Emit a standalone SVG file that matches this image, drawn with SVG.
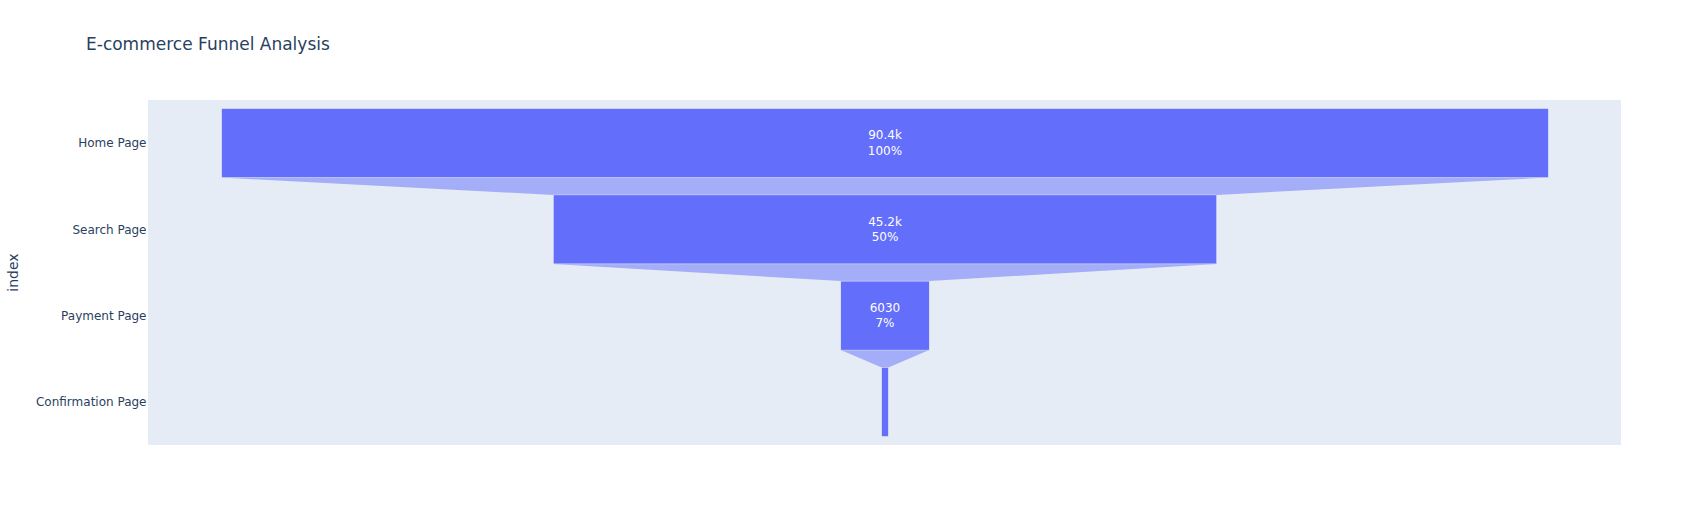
<svg xmlns="http://www.w3.org/2000/svg" width="1701" height="525" viewBox="0 0 1701 525">
<style>
text{font-family:"DejaVu Sans",Verdana,sans-serif}
.bar{fill:#636efa;stroke:#e5ecf6;stroke-width:0.5}
.conn{fill:#a4adf8;stroke:none}
.tick{font-size:12px;fill:#2a3f5f;text-anchor:end}
.val{font-size:12px;fill:#ffffff;text-anchor:middle}
</style>
<rect x="0" y="0" width="1701" height="525" fill="#ffffff"/>
<rect x="148" y="100" width="1473" height="345" fill="#e5ecf6"/>
<g id="connectors">
<polygon class="conn" points="221.7,177.6 1548.3,177.6 1216.65,194.9 553.35,194.9"/>
<polygon class="conn" points="553.35,263.9 1216.65,263.9 929.24,281.1 840.76,281.1"/>
<polygon class="conn" points="840.76,350.1 929.24,350.1 888.3,367.4 881.7,367.4"/>
</g>
<g id="home">
<rect class="bar" x="221.7" y="108.6" width="1326.6" height="69"/>
<text class="val" x="885" y="139.3">90.4k</text>
<text class="val" x="885" y="155">100%</text>
</g>
<g id="search">
<rect class="bar" x="553.35" y="194.9" width="663.3" height="69"/>
<text class="val" x="885" y="225.6">45.2k</text>
<text class="val" x="885" y="241.2">50%</text>
</g>
<g id="payment">
<rect class="bar" x="840.76" y="281.1" width="88.48" height="69"/>
<text class="val" x="885" y="311.8">6030</text>
<text class="val" x="885" y="327.4">7%</text>
</g>
<g id="confirmation">
<rect class="bar" x="881.7" y="367.4" width="6.6" height="69"/>
</g>
<g id="axis">
<text class="tick" x="146.5" y="147.3">Home Page</text>
<text class="tick" x="146.5" y="233.6">Search Page</text>
<text class="tick" x="146.5" y="319.8">Payment Page</text>
<text class="tick" x="146.5" y="406.1">Confirmation Page</text>
<text x="18" y="272.5" transform="rotate(-90 18 272.5)" font-size="14" fill="#2a3f5f" text-anchor="middle">index</text>
</g>
<text x="86" y="50" font-size="17" fill="#2a3f5f">E-commerce Funnel Analysis</text>
</svg>
